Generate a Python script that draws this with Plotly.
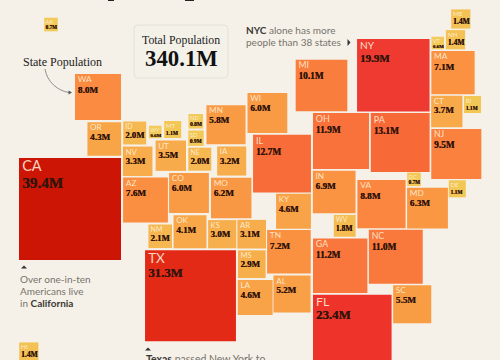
import numpy as np
import plotly.graph_objects as go

states = ["AK","WA","OR","CA","ID","WY","MT","ND","SD","MN","NV","UT","NE","IA","AZ","CO","MO","NM","OK","KS","AR","TX","MS","LA","AL","TN","KY","IL","WI","MI","OH","PA","NY","IN","VA","MD","DC","DE","WV","GA","NC","SC","FL","NJ","CT","RI","MA","VT","NH","ME","HI"]
population = [0.7,8.0,4.3,39.4,2.0,0.6,1.1,0.8,0.9,5.8,3.3,3.5,2.0,3.2,7.6,6.0,6.2,2.1,4.1,3.0,3.1,31.3,2.9,4.6,5.2,7.2,4.6,12.7,6.0,10.1,11.9,13.1,19.9,6.9,8.8,6.3,0.7,1.1,1.8,11.2,11.0,5.5,23.4,9.5,3.7,1.1,7.1,0.6,1.4,1.4,1.4]
map_x = [51,98,104.3,70,134.7,155.2,172.7,195.8,196,226,137.7,170.8,199.8,231.7,145.5,189,231.2,160.2,190,222.2,251.7,190.5,251.8,255.2,292,288.9,293.5,282,267.4,321.5,341,400.2,393.3,334.2,381.5,427.5,414,457.3,344.7,340.2,395.8,412.2,352.3,456.3,446.8,472.5,453,437.8,455.5,460.8,28.8]
map_y = [24.5,97,139,209,133,132,129.5,121.3,138.2,124.7,161.3,155.7,159.2,161,200,193,198,236.3,231.8,234.2,234.2,295.7,264.2,297.5,294,251.8,211.3,163.6,113,85.5,141,142.5,75.2,192,204.2,208.2,179.3,188.8,225.8,265.7,256.8,304.3,334,154,111.5,104.5,72.7,43,39.7,19,352]
total_label = "340.1M"

BG = "#F5F1E8"
pop = np.array(population)
side = 16.25 * np.sqrt(pop)
x = np.array(map_x)
y = np.array(map_y)
value_size = np.interp(side, [12,14.5,17,19,21.8,23,30,60,72,79,91,102], [4.9,5.4,5.4,7.6,7.6,8.7,9.1,9.4,10.8,13,12.8,15.2])
label_size = np.interp(side, [12,20,30,50,72,79,102], [5.5,6.5,8,8.5,10,12.5,14.5])
left = x - side / 2 + np.interp(side, [12,30,102], [1.3,2.6,3.2])
top = y - side / 2
label_off = np.interp(side, [12,17,23,46,60,72,79,91,102], [4.5,5,6,6,7.3,7.7,8.6,9,9])
value_off = np.interp(side, [12,17,23,46,60,72,79,91,102], [9.6,12.2,14.3,16.5,18.3,20.3,21.3,24,26.3])

fig = go.Figure()
fig.add_trace(go.Scatter(
    x=x, y=y, mode="markers", hoverinfo="skip",
    marker=dict(symbol="square", size=side, opacity=1, line=dict(width=0),
                color=pop, cmin=0, cmax=39.4,
                colorscale=[[0, "#F2D060"], [0.03, "#F3C655"], [0.06, "#F7B24E"], [0.13, "#F9A046"],
                            [0.2, "#FA8C40"], [0.3, "#F9733B"], [0.35, "#F76437"],
                            [0.5, "#EF3A32"], [0.6, "#EE342A"], [0.8, "#E32A16"], [1, "#CD1506"]]),
))
fig.add_trace(go.Scatter(
    x=left, y=top + label_off, mode="text", text=states, textposition="middle right", hoverinfo="skip",
    textfont=dict(family="Lato", size=label_size, color="rgba(255,242,220,0.88)"),
))
fig.add_trace(go.Scatter(
    x=left, y=top + value_off, mode="text", text=[f"{v:.1f}M" for v in population],
    textposition="middle right", hoverinfo="skip",
    textfont=dict(family="Liberation Serif", size=value_size, color="#33140A", weight="bold",
                  shadow="0.25px 0 0 #33140A"),
))

shapes = [
    dict(type="path", path="M 138 25 L 224 25 Q 228 25 228 29 L 228 74 Q 228 78 224 78 L 138 78 Q 134 78 134 74 L 134 29 Q 134 25 138 25 Z",
         fillcolor="#F4F1E9", line=dict(color="#E3E0D6", width=1), layer="below"),
    dict(type="path", path="M 45 69 C 47 82 58 91 69 92.5", line=dict(color="#777", width=0.8)),
    dict(type="path", path="M 72 92.5 L 68.5 90.5 L 68.5 94.5 Z", fillcolor="#555", line=dict(width=0)),
    dict(type="path", path="M 21 268.5 L 27 268.5 L 24 265.5 Z", fillcolor="#333", line=dict(width=0)),
    dict(type="path", path="M 145 350.5 L 151 350.5 L 148 347.5 Z", fillcolor="#333", line=dict(width=0)),
    dict(type="path", path="M 347.5 39 L 350.5 42.5 L 347.5 46 Z", fillcolor="#333", line=dict(width=0)),
    dict(type="rect", x0=108, x1=114, y0=0, y1=1, fillcolor="#222", line=dict(width=0)),
    dict(type="rect", x0=185, x1=194, y0=0, y1=1, fillcolor="#222", line=dict(width=0)),
]

def note(xp, yp, text, family="Lato", size=10, color="#77736C", anchor="left"):
    return dict(x=xp, y=yp, text=text, showarrow=False, xanchor=anchor, yanchor="middle", align="left",
                font=dict(family=family, size=size, color=color))

DARK = "#3A3835"
annotations = [
    note(181, 39.5, "Total Population", "Liberation Serif", 11.8, "#222", "center"),
    note(181, 58, f"<b>{total_label}</b>", "Liberation Serif", 22.8, "#111", "center"),
    note(21, 62, "State Population", "Liberation Serif", 12, "#222"),
    note(244, 30, f"<b style='color:{DARK}'>NYC</b> alone has more"),
    note(244, 41.5, "people than 38 states"),
    note(18, 278.5, "Over one-in-ten"),
    note(18, 290.5, "Americans live"),
    note(18, 302.5, f"in <b style='color:{DARK}'>California</b>"),
    note(144, 358.5, f"<b style='color:{DARK}'>Texas</b> passed New York to", size=10.5),
]

fig.update_layout(
    width=500, height=360, margin=dict(l=0, r=0, t=0, b=0), showlegend=False,
    paper_bgcolor=BG, plot_bgcolor=BG,
    xaxis=dict(range=[0, 500], visible=False, fixedrange=True),
    yaxis=dict(range=[360, 0], visible=False, fixedrange=True),
    shapes=shapes, annotations=annotations,
)
fig.write_html("out.html", config={"displayModeBar": False},
               post_script="document.body.style.margin='0';document.body.style.background='" + BG + "';")
